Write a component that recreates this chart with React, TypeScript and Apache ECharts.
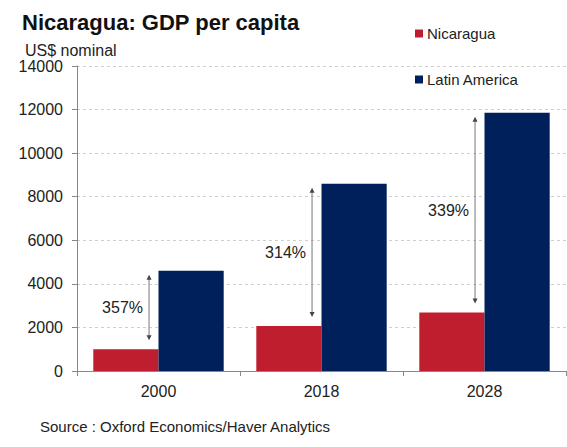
import React, { useEffect, useRef } from "react";
import * as echarts from "echarts";

const categories = ["2000", "2018", "2028"];
const nicaragua = [1000, 2060, 2690];
const latinAmerica = [4600, 8600, 11850];
const growthLabels = ["357%", "314%", "339%"];
const yTicks = { min: 0, max: 14000, interval: 2000 };

const FONT = "'Liberation Sans', Arial, sans-serif";

export default function App() {
  const ref = useRef<HTMLDivElement>(null);
  useEffect(() => {
    document.body.style.margin = "0";
    const chart = echarts.init(ref.current!, null, { renderer: "svg" });
    const arrowData = categories.map((_, i) => [i, nicaragua[i], latinAmerica[i], growthLabels[i]]);
    chart.setOption({
      animation: false,
      backgroundColor: "#ffffff",
      textStyle: { fontFamily: FONT },
      title: [
        {
          text: "Nicaragua: GDP per capita",
          left: 22,
          top: 11,
          padding: 0,
          textStyle: { fontFamily: FONT, fontSize: 22, fontWeight: "bold", color: "#111" },
        },
        {
          text: "US$ nominal",
          left: 25,
          top: 42,
          padding: 0,
          textStyle: { fontFamily: FONT, fontSize: 16, fontWeight: "normal", color: "#222" },
        },
        {
          text: "Source : Oxford Economics/Haver Analytics",
          left: 40,
          top: 419,
          padding: 0,
          textStyle: { fontFamily: FONT, fontSize: 15, fontWeight: "normal", color: "#222" },
        },
      ],
      legend: {
        data: ["Nicaragua", "Latin America"],
        orient: "vertical",
        left: 410,
        top: 21,
        itemWidth: 8,
        itemHeight: 8,
        itemGap: 31,
        icon: "rect",
        textStyle: { fontFamily: FONT, fontSize: 15, color: "#222", padding: [0, 0, 0, -1] },
      },
      grid: { left: 77, right: 1, top: 66, bottom: 76 },
      xAxis: {
        type: "category",
        data: categories,
        axisLine: { lineStyle: { color: "#888", width: 1 } },
        axisTick: { show: true, alignWithLabel: false, length: 5, lineStyle: { color: "#888" } },
        axisLabel: { fontFamily: FONT, fontSize: 16, color: "#222", margin: 12 },
      },
      yAxis: {
        type: "value",
        min: yTicks.min,
        max: yTicks.max,
        interval: yTicks.interval,
        axisLine: { show: true, lineStyle: { color: "#888", width: 1 } },
        axisTick: { show: true, length: 5, lineStyle: { color: "#888" } },
        axisLabel: {
          fontFamily: FONT,
          fontSize: 16,
          color: "#222",
          margin: 14,
          formatter: (v: number) => String(v),
        },
        splitLine: { show: true, lineStyle: { color: "#cfcfcf", type: [3, 3], width: 1 } },
      },
      series: [
        {
          name: "Nicaragua",
          type: "bar",
          data: nicaragua,
          barGap: "0%",
          barCategoryGap: "20%",
          itemStyle: { color: "#BE1E2D" },
        },
        {
          name: "Latin America",
          type: "bar",
          data: latinAmerica,
          barGap: "0%",
          barCategoryGap: "20%",
          itemStyle: { color: "#00205B" },
        },
        {
          type: "custom",
          name: "arrows",
          data: arrowData,
          silent: true,
          z: 5,
          renderItem: (params: any, api: any) => {
            const idx = api.value(0);
            const p1 = api.coord([idx, api.value(1)]);
            const p2 = api.coord([idx, api.value(2)]);
            const bw = api.size([1, 0])[0];
            const x = p1[0] - 0.058 * bw;
            const yBot = p1[1] - 9;
            const yTop = p2[1] + 4;
            const color = "#444";
            const ah = 5;
            const aw = 2.5;
            return {
              type: "group",
              children: [
                {
                  type: "line",
                  shape: { x1: x, y1: yTop + ah - 1, x2: x, y2: yBot - ah + 1 },
                  style: { stroke: "#777", lineWidth: 1 },
                },
                {
                  type: "polygon",
                  shape: { points: [[x, yTop], [x - aw, yTop + ah], [x + aw, yTop + ah]] },
                  style: { fill: color },
                },
                {
                  type: "polygon",
                  shape: { points: [[x, yBot], [x - aw, yBot - ah], [x + aw, yBot - ah]] },
                  style: { fill: color },
                },
                {
                  type: "text",
                  x: x - 6,
                  y: (yTop + yBot) / 2,
                  style: {
                    text: String(api.value(3)),
                    fontFamily: FONT,
                    fontSize: 16,
                    fill: "#222",
                    align: "right",
                    verticalAlign: "middle",
                  },
                },
              ],
            };
          },
        },
      ],
    });
    return () => chart.dispose();
  }, []);
  return <div ref={ref} style={{ width: 567, height: 447 }} />;
}
